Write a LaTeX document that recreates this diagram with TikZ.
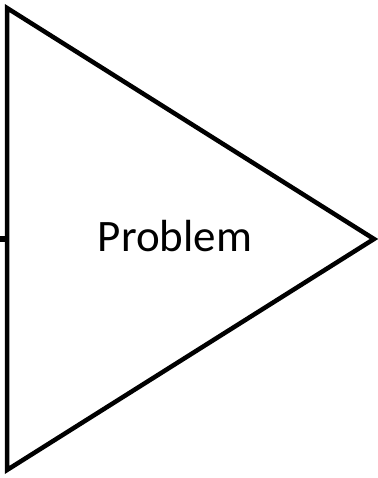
\documentclass[tikz,border=0pt]{standalone}
\usepackage{fontspec}
\setmainfont{Carlito}
\begin{document}
\begin{tikzpicture}[x=1pt,y=1pt,
  edge/.style={line width=4.5pt,line join=miter,draw=black},
  label/.style={font=\fontsize{45}{54}\selectfont,inner sep=0pt}]
\useasboundingbox (0,0) rectangle (377,478);
\coordinate (tl) at (7,470);
\coordinate (bl) at (7,8);
\coordinate (tip) at (374,239);
\coordinate (mid) at (7,239);
\coordinate (stub) at (0,239);
\draw[edge] (tl) -- (tip) -- (bl) -- cycle;
\draw[edge,line width=6pt] (stub) -- (mid);
\node[label,anchor=base] (txt) at (175,226) {Problem};
\end{tikzpicture}
\end{document}
